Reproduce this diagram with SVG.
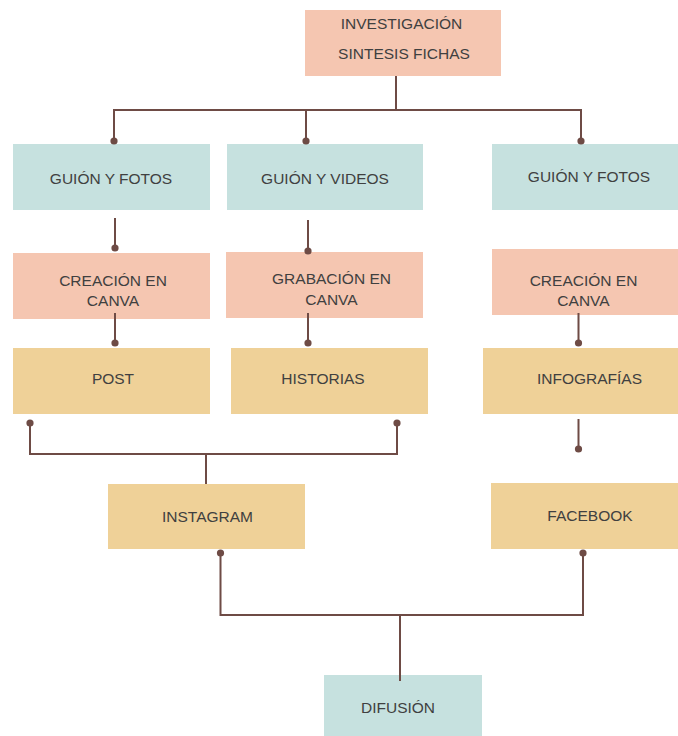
<svg xmlns="http://www.w3.org/2000/svg" width="678" height="736" viewBox="0 0 678 736">
<style>
text{font-family:"Liberation Sans",Arial,sans-serif;font-size:15.5px;fill:#404040;text-anchor:middle}
.s{fill:#F5C6B1}
.t{fill:#C6E1DF}
.y{fill:#EFD198}
.c{fill:none;stroke:#6E4B45;stroke-width:2}
.d{fill:#6E4B45}
</style>
<rect width="678" height="736" fill="#fff"/>
<g id="investigacion"><rect class="s" x="305" y="10" width="196" height="66"/><text x="401.5" y="28.5">INVESTIGACIÓN</text><text x="404" y="58.5">SINTESIS FICHAS</text></g>
<g id="guion1"><rect class="t" x="13" y="144" width="197" height="66"/><text x="111" y="183.5">GUIÓN Y FOTOS</text></g>
<g id="guion2"><rect class="t" x="227" y="144" width="196" height="66"/><text x="325" y="183.5">GUIÓN Y VIDEOS</text></g>
<g id="guion3"><rect class="t" x="492" y="144" width="186" height="66"/><text x="589" y="181.5">GUIÓN Y FOTOS</text></g>
<g id="creacion1"><rect class="s" x="13" y="253" width="197" height="66"/><text x="113" y="285.5">CREACIÓN EN</text><text x="113" y="305.5">CANVA</text></g>
<g id="grabacion"><rect class="s" x="226" y="252" width="197" height="66"/><text x="331.5" y="283.5">GRABACIÓN EN</text><text x="331.5" y="304.5">CANVA</text></g>
<g id="creacion3"><rect class="s" x="492" y="249" width="186" height="66"/><text x="583.5" y="285.5">CREACIÓN EN</text><text x="583.5" y="305.5">CANVA</text></g>
<g id="post"><rect class="y" x="13" y="348" width="197" height="66"/><text x="113" y="383.5">POST</text></g>
<g id="historias"><rect class="y" x="231" y="348" width="197" height="66"/><text x="323" y="383.5">HISTORIAS</text></g>
<g id="infografias"><rect class="y" x="483" y="348" width="195" height="66"/><text x="589.5" y="383.5">INFOGRAFÍAS</text></g>
<g id="instagram"><rect class="y" x="108" y="484" width="197" height="65"/><text x="207.5" y="521.5">INSTAGRAM</text></g>
<g id="facebook"><rect class="y" x="491" y="483" width="187" height="66"/><text x="590" y="520.5">FACEBOOK</text></g>
<g id="difusion"><rect class="t" x="324" y="675" width="158" height="61"/><text x="398" y="712.5">DIFUSIÓN</text></g>
<g id="connectors">
<path class="c" d="M396 76V110M114 141V110H581V141M306 110V141"/>
<path class="c" d="M115 218V248M308 220V251"/>
<path class="c" d="M115 313V343M308 313V343M578.5 313V343"/>
<path class="c" d="M30 423V454H397V423M206 454V484"/>
<path class="c" d="M578.5 419V449"/>
<path class="c" d="M220.5 553V615H583V553M400 615V681"/>
<g class="d">
<circle cx="114" cy="141" r="3.6"/><circle cx="306" cy="141" r="3.6"/><circle cx="581" cy="141" r="3.6"/>
<circle cx="115" cy="248" r="3.6"/><circle cx="308" cy="251" r="3.6"/>
<circle cx="115" cy="343" r="3.6"/><circle cx="308" cy="343" r="3.6"/><circle cx="578.5" cy="343" r="3.6"/>
<circle cx="30" cy="423" r="3.6"/><circle cx="397" cy="423" r="3.6"/>
<circle cx="578.5" cy="449" r="3.6"/>
<circle cx="220.5" cy="553" r="3.6"/><circle cx="583" cy="553" r="3.6"/>
</g>
</g>
</svg>
